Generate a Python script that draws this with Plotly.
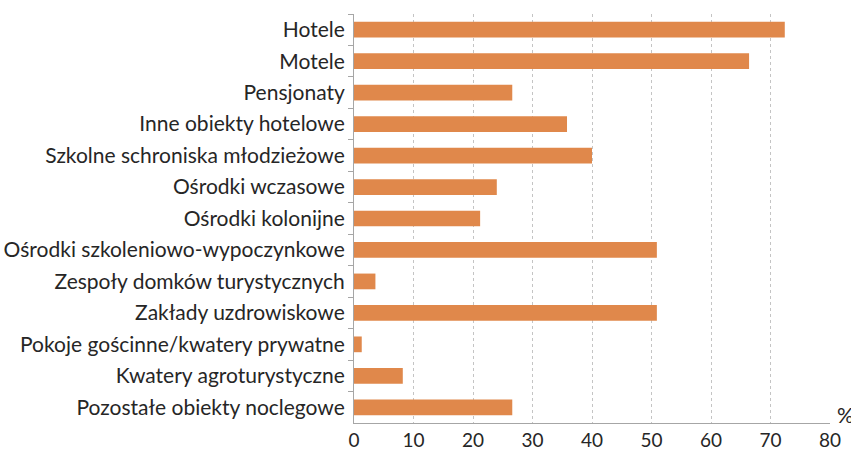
import plotly.graph_objects as go

categories = [
    "Hotele", "Motele", "Pensjonaty", "Inne obiekty hotelowe",
    "Szkolne schroniska młodzieżowe", "Ośrodki wczasowe", "Ośrodki kolonijne",
    "Ośrodki szkoleniowo-wypoczynkowe", "Zespoły domków turystycznych",
    "Zakłady uzdrowiskowe", "Pokoje gościnne/kwatery prywatne",
    "Kwatery agroturystyczne", "Pozostałe obiekty noclegowe",
]
values = [72.4, 66.4, 26.6, 35.8, 40.0, 24.0, 21.2, 50.9, 3.6, 50.9, 1.3, 8.2, 26.6]
x_ticks = [0, 10, 20, 30, 40, 50, 60, 70, 80]

FONT = "Lato"
TXT = "#262626"

fig = go.Figure(go.Bar(
    x=values, y=categories, orientation="h",
    marker=dict(color="#E0884B", line=dict(width=0)),
    width=0.5,
))

fig.update_layout(
    width=851, height=449,
    margin=dict(l=354, r=21, t=14, b=26, autoexpand=False),
    paper_bgcolor="white", plot_bgcolor="white",
    showlegend=False,
    font=dict(family=FONT, size=21, color=TXT),
    xaxis=dict(
        range=[0, 80], tickvals=x_ticks, showgrid=True,
        gridcolor="#C4C4C4", griddash="dot", gridwidth=1,
        showline=True, linecolor="#A6A6A6", linewidth=1,
        ticks="", zeroline=False, tickfont=dict(size=19, color=TXT),
        ticklabelstandoff=0, automargin=False,
    ),
    yaxis=dict(
        autorange="reversed", showgrid=False,
        showline=True, linecolor="#A6A6A6", linewidth=1,
        ticks="outside", ticklen=5, tickcolor="#A6A6A6",
        tickson="boundaries", tickfont=dict(size=21, color=TXT),
        ticklabelstandoff=4, automargin=False,
    ),
    annotations=[dict(
        text="%", xref="paper", yref="paper", x=1.01, y=0.0, xanchor="left",
        yanchor="bottom", yshift=-6, showarrow=False,
        font=dict(size=21, color=TXT),
    )],
)

fig.write_html(
    "out.html",
    config={"displayModeBar": False},
    post_script="document.body.style.margin='0';document.body.style.overflow='hidden';",
)
